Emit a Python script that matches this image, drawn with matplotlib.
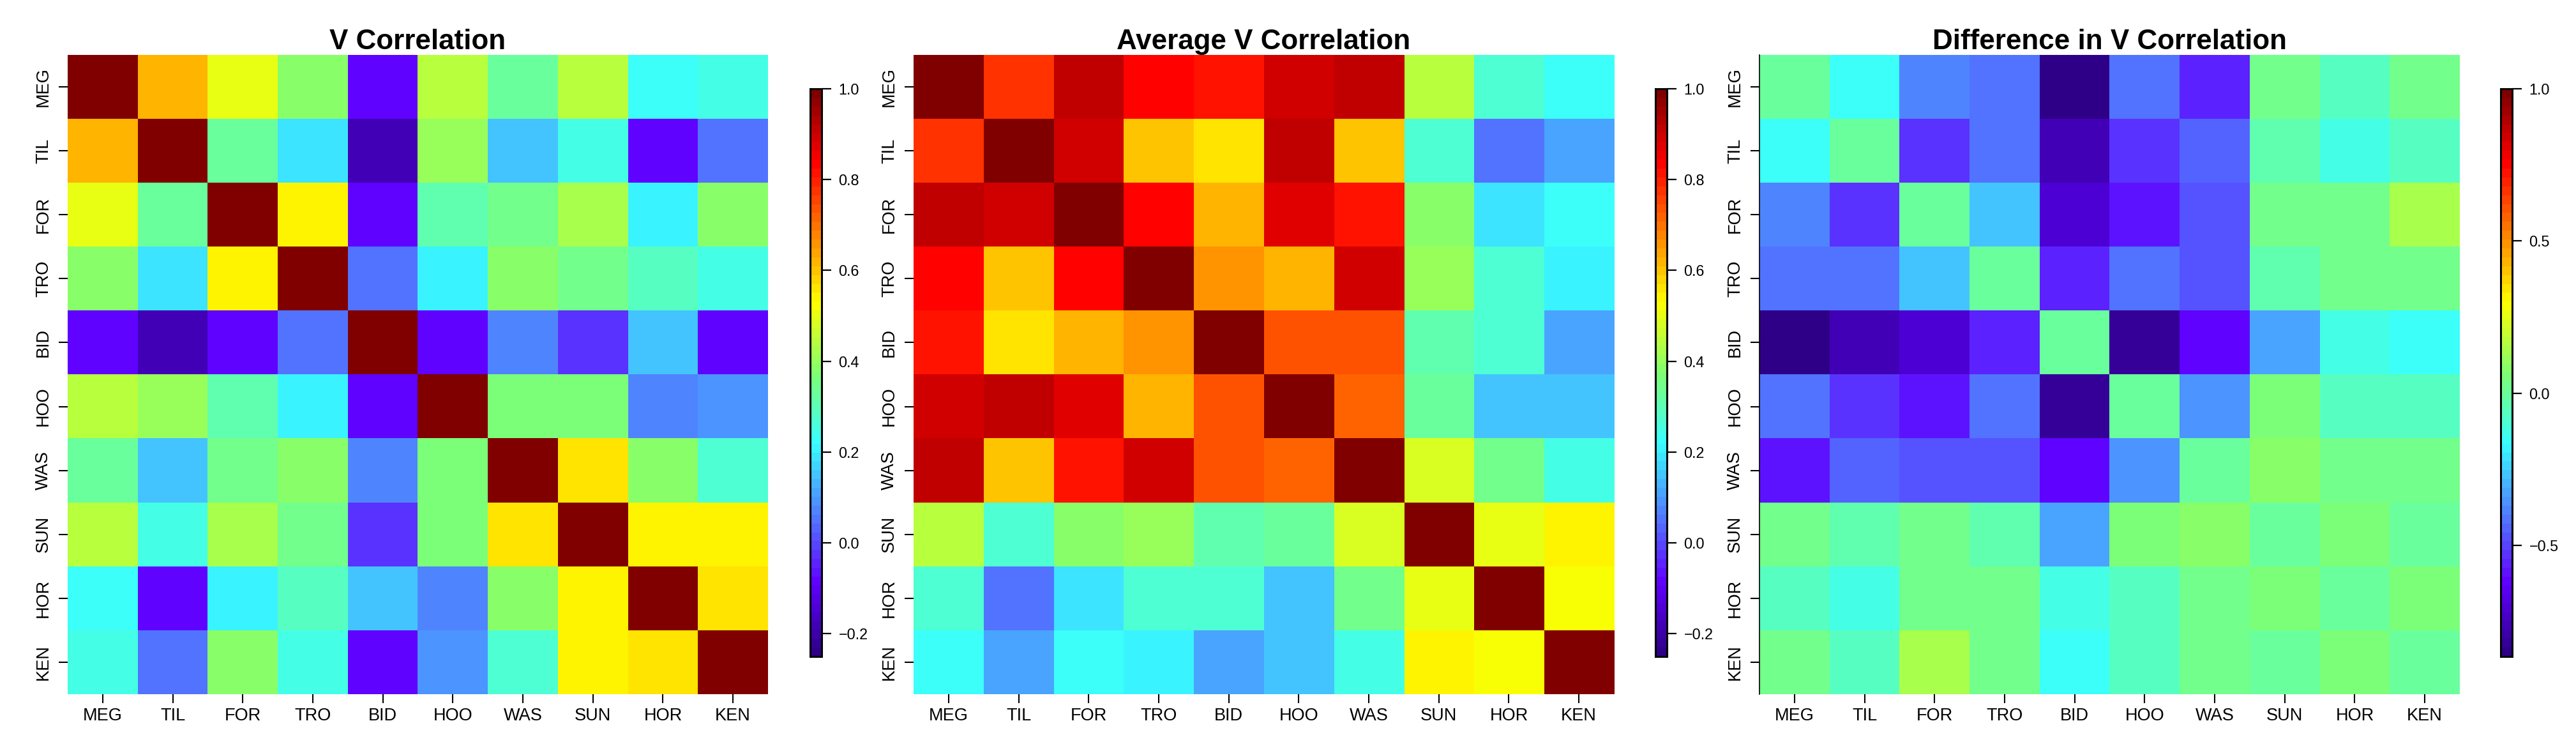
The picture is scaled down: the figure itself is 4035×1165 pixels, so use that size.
import numpy as np
import matplotlib
matplotlib.use('Agg')
import matplotlib.pyplot as plt
from matplotlib.colors import LinearSegmentedColormap
from matplotlib.ticker import FuncFormatter

plt.rcParams['font.family'] = ['Liberation Sans', 'DejaVu Sans']

labels = ['MEG', 'TIL', 'FOR', 'TRO', 'BID', 'HOO', 'WAS', 'SUN', 'HOR', 'KEN']

v_corr = np.array([
    [1.00, 0.62, 0.50, 0.375, -0.09, 0.44, 0.33, 0.44, 0.22, 0.24],
    [0.62, 1.00, 0.33, 0.18, -0.19, 0.40, 0.16, 0.255, -0.09, 0.06],
    [0.50, 0.33, 1.00, 0.54, -0.09, 0.305, 0.345, 0.425, 0.20, 0.375],
    [0.375, 0.18, 0.54, 1.00, 0.06, 0.20, 0.375, 0.345, 0.29, 0.24],
    [-0.09, -0.19, -0.09, 0.06, 1.00, -0.09, 0.08, -0.025, 0.16, -0.09],
    [0.44, 0.40, 0.305, 0.20, -0.09, 1.00, 0.36, 0.36, 0.08, 0.10],
    [0.33, 0.16, 0.345, 0.375, 0.08, 0.36, 1.00, 0.565, 0.375, 0.26],
    [0.44, 0.255, 0.425, 0.345, -0.025, 0.36, 0.565, 1.00, 0.54, 0.54],
    [0.22, -0.09, 0.20, 0.29, 0.16, 0.08, 0.375, 0.54, 1.00, 0.565],
    [0.24, 0.06, 0.375, 0.24, -0.09, 0.10, 0.26, 0.54, 0.565, 1.00],
])

avg_corr = np.array([
    [1.00, 0.785, 0.905, 0.825, 0.805, 0.89, 0.905, 0.44, 0.26, 0.22],
    [0.785, 1.00, 0.89, 0.59, 0.565, 0.92, 0.605, 0.26, 0.06, 0.11],
    [0.905, 0.89, 1.00, 0.825, 0.625, 0.87, 0.805, 0.375, 0.18, 0.22],
    [0.825, 0.59, 0.825, 1.00, 0.65, 0.625, 0.89, 0.40, 0.26, 0.20],
    [0.805, 0.565, 0.625, 0.65, 1.00, 0.745, 0.745, 0.305, 0.26, 0.11],
    [0.89, 0.92, 0.87, 0.625, 0.745, 1.00, 0.725, 0.33, 0.16, 0.16],
    [0.905, 0.605, 0.805, 0.89, 0.745, 0.725, 1.00, 0.48, 0.345, 0.255],
    [0.44, 0.26, 0.375, 0.40, 0.305, 0.33, 0.48, 1.00, 0.50, 0.54],
    [0.26, 0.06, 0.18, 0.26, 0.26, 0.16, 0.345, 0.50, 1.00, 0.52],
    [0.22, 0.11, 0.22, 0.20, 0.11, 0.16, 0.255, 0.54, 0.52, 1.00],
])

diff_corr = np.array([
    [0.0, -0.165, -0.37, -0.40, -0.864, -0.40, -0.56, 0.025, -0.063, 0.025],
    [-0.165, 0.0, -0.54, -0.40, -0.75, -0.54, -0.43, -0.036, -0.135, -0.063],
    [-0.37, -0.54, 0.0, -0.26, -0.70, -0.575, -0.46, 0.025, 0.025, 0.155],
    [-0.40, -0.40, -0.26, 0.0, -0.565, -0.40, -0.46, -0.036, 0.025, 0.025],
    [-0.864, -0.75, -0.70, -0.565, 0.0, -0.81, -0.63, -0.325, -0.11, -0.165],
    [-0.40, -0.54, -0.575, -0.40, -0.81, 0.0, -0.34, 0.045, -0.063, -0.063],
    [-0.575, -0.43, -0.46, -0.46, -0.63, -0.34, 0.0, 0.07, 0.025, 0.025],
    [0.025, -0.036, 0.025, -0.036, -0.325, 0.045, 0.07, 0.0, 0.045, 0.003],
    [-0.063, -0.135, 0.025, 0.025, -0.11, -0.063, 0.025, 0.045, 0.0, 0.05],
    [0.025, -0.063, 0.155, 0.025, -0.165, -0.063, 0.025, 0.003, 0.05, 0.0],
])

titles = ['V Correlation', 'Average V Correlation', 'Difference in V Correlation']
vmins = [-0.25, -0.25, -0.864]
cbar_ticks = [[-0.2, 0.0, 0.2, 0.4, 0.6, 0.8, 1.0],
              [-0.2, 0.0, 0.2, 0.4, 0.6, 0.8, 1.0],
              [-0.5, 0.0, 0.5, 1.0]]

cmap = LinearSegmentedColormap.from_list('corr', [
    (0.0, '#2e0088'), (0.125, '#6000ff'), (0.25, '#5080ff'),
    (0.375, '#38ffff'), (0.5, '#80ff70'), (0.625, '#ffff00'),
    (0.875, '#ff0000'), (1.0, '#800000')], N=64)

W, H = 4035, 1165
fig = plt.figure(figsize=(W / 100, H / 100), dpi=100)

ax_left = [106, 1431, 2756]
ax_w = 1097
cb_left = [1269, 2593, 3917]

fmt = FuncFormatter(lambda x, p: f'{x:.1f}'.replace('-', '\u2212'))

for i, m in enumerate([v_corr, avg_corr, diff_corr]):
    ax = fig.add_axes([ax_left[i] / W, 1 - 1087 / H, ax_w / W, 1001 / H])
    im = ax.imshow(m, cmap=cmap, vmin=vmins[i], vmax=1.0, aspect='auto',
                   interpolation='nearest')
    ax.set_xticks(range(len(labels)))
    ax.set_xticklabels(labels, fontsize=19.5)
    ax.set_yticks(range(len(labels)))
    ax.set_yticklabels(labels, fontsize=19.5, rotation=90, va='center')
    ax.tick_params(axis='x', length=10, width=1.5, pad=5)
    ax.tick_params(axis='y', length=10, width=1.5, pad=8)
    for s in ax.spines.values():
        s.set_visible(False)
    if i == 2:
        ax.spines['left'].set_visible(True)
        ax.spines['left'].set_linewidth(1.2)
    ax.set_title(titles[i], fontsize=31.7, fontweight='bold', pad=3)

    cax = fig.add_axes([cb_left[i] / W, 1 - 1028 / H, 18 / W, 889 / H])
    cb = fig.colorbar(im, cax=cax, ticks=cbar_ticks[i], format=fmt)
    cb.outline.set_linewidth(2.2)
    cax.tick_params(length=11, width=1.6, labelsize=16.8, pad=8)

fig.savefig('out.png', dpi=100)
